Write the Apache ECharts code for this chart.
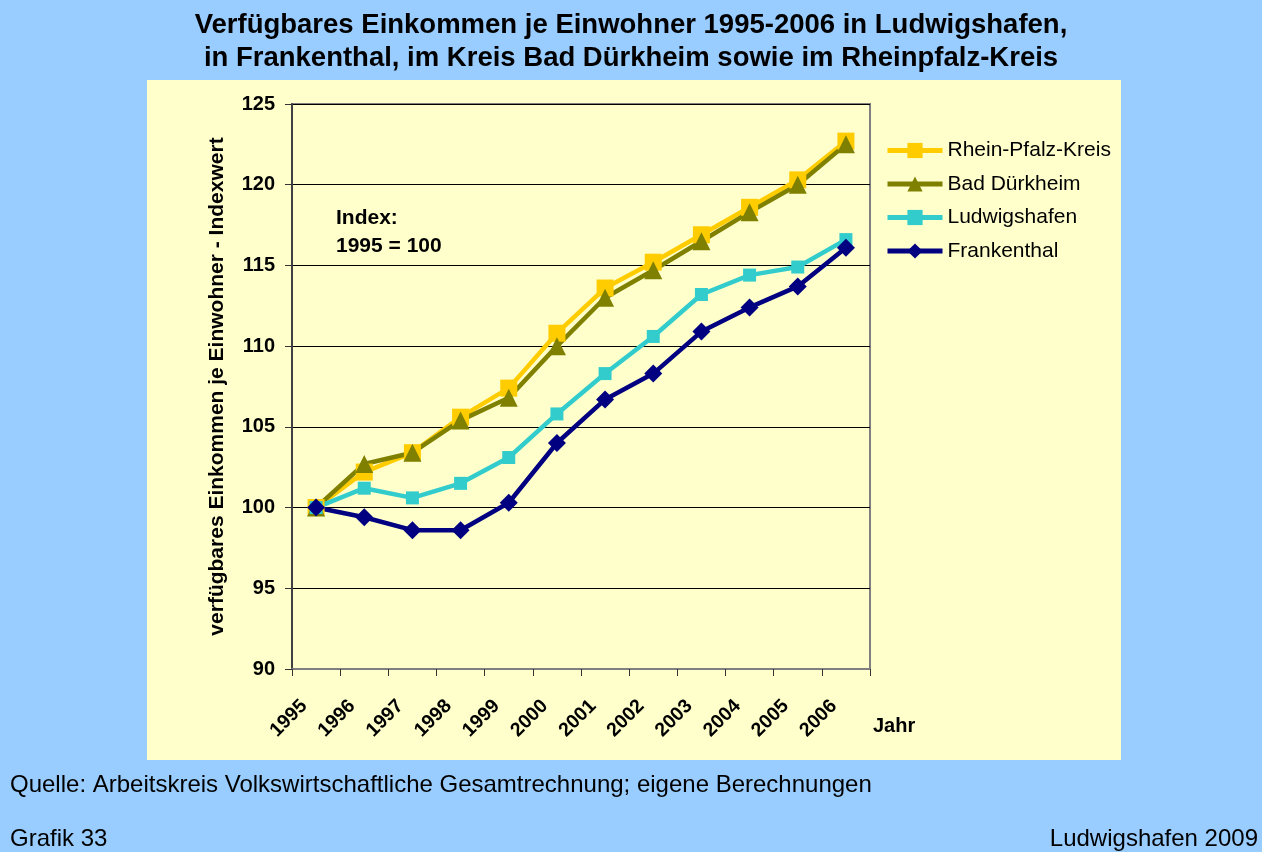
<!DOCTYPE html>
<html>
<head>
<meta charset="utf-8">
<script src="https://cdn.jsdelivr.net/npm/echarts@6/dist/echarts.min.js"></script>
<style>
  html, body { margin: 0; padding: 0; background: #99CCFF; }
  #chart { width: 1262px; height: 852px; }
</style>
</head>
<body>
<div id="chart"></div>
<script>
// Jahre (Kategorien der x-Achse)
const years = ['1995','1996','1997','1998','1999','2000','2001','2002','2003','2004','2005','2006'];

// Indexwerte (1995 = 100)
const rheinPfalzKreis = [100, 102.2, 103.4, 105.6, 107.4, 110.8, 113.6, 115.2, 116.9, 118.6, 120.3, 122.7];
const badDuerkheim    = [100, 102.7, 103.4, 105.4, 106.8, 110.0, 113.0, 114.7, 116.5, 118.3, 120.0, 122.5];
const ludwigshafen    = [100, 101.2, 100.6, 101.5, 103.1, 105.8, 108.3, 110.6, 113.2, 114.4, 114.9, 116.6];
const frankenthal     = [100, 99.4, 98.6, 98.6, 100.3, 104.0, 106.7, 108.3, 110.9, 112.4, 113.7, 116.1];

// Skalierung der y-Achse
const yMin = 90, yMax = 125, yStep = 5;

const FONT = '"Liberation Sans", Arial, sans-serif';

const chart = echarts.init(document.getElementById('chart'), null, { renderer: 'canvas' });

function lineSeries(name, data, color, symbol, size) {
  return {
    name: name,
    type: 'line',
    data: data,
    symbol: symbol,
    symbolSize: size,
    showAllSymbol: true,
    lineStyle: { color: color, width: 4.5 },
    itemStyle: { color: color },
    emphasis: { disabled: true },
    animation: false
  };
}

chart.setOption({
  backgroundColor: '#99CCFF',
  animation: false,
  textStyle: { fontFamily: FONT },
  title: {
    text: 'Verfügbares Einkommen je Einwohner 1995-2006 in Ludwigshafen,\nin Frankenthal, im Kreis Bad Dürkheim sowie im Rheinpfalz-Kreis',
    left: 'center',
    top: 4,
    textStyle: { fontFamily: FONT, fontSize: 27.5, fontWeight: 'bold', lineHeight: 33, color: '#000' }
  },
  graphic: [
    { type: 'rect', z: -10, shape: { x: 147, y: 80, width: 974, height: 680 }, style: { fill: '#FFFFCC' } },
    { type: 'text', left: 336, top: 208, style: { text: 'Index:', font: 'bold 21px ' + FONT, fill: '#000' } },
    { type: 'text', left: 336, top: 236, style: { text: '1995 = 100', font: 'bold 21px ' + FONT, fill: '#000' } },
    { type: 'text', left: 873, top: 716, style: { text: 'Jahr', font: 'bold 20px ' + FONT, fill: '#000' } },
    { type: 'text', left: 10, top: 773, style: { text: 'Quelle: Arbeitskreis Volkswirtschaftliche Gesamtrechnung; eigene Berechnungen', font: '24px ' + FONT, fill: '#000' } },
    { type: 'text', left: 10, top: 827, style: { text: 'Grafik 33', font: '24px ' + FONT, fill: '#000' } },
    { type: 'text', right: 4, top: 827, style: { text: 'Ludwigshafen 2009', font: '24px ' + FONT, fill: '#000' } }
  ],
  legend: {
    orient: 'vertical',
    left: 880,
    top: 135,
    itemWidth: 55,
    itemHeight: 19,
    itemGap: 12.5,
    lineStyle: { width: 5 },
    textStyle: { fontFamily: FONT, fontSize: 21, color: '#000' },
    data: ['Rhein-Pfalz-Kreis', 'Bad Dürkheim', 'Ludwigshafen', 'Frankenthal']
  },
  grid: {
    left: 292, right: 392, top: 104, bottom: 183,
    show: true,
    borderColor: '#808080',
    borderWidth: 2,
    backgroundColor: '#FFFFCC'
  },
  xAxis: {
    type: 'category',
    data: years,
    boundaryGap: true,
    axisLine: { lineStyle: { color: '#808080', width: 2 } },
    axisTick: { show: true, length: 7, lineStyle: { color: '#333', width: 1 } },
    axisLabel: {
      rotate: 45,
      margin: 22,
      fontFamily: FONT,
      fontSize: 19.5,
      fontWeight: 'bold',
      color: '#000',
      padding: [0, 17, 0, 0]
    },
    splitLine: { show: false }
  },
  yAxis: {
    type: 'value',
    min: yMin,
    max: yMax,
    interval: yStep,
    name: 'verfügbares Einkommen je Einwohner - Indexwert',
    nameLocation: 'middle',
    nameRotate: 90,
    nameGap: 64,
    nameTextStyle: { fontFamily: FONT, fontSize: 21, fontWeight: 'bold', color: '#000' },
    axisLine: { show: true, lineStyle: { color: '#404040', width: 2 } },
    axisTick: { show: true, length: 7, inside: false, lineStyle: { color: '#333', width: 1 } },
    axisLabel: { margin: 17, fontFamily: FONT, fontSize: 20, fontWeight: 'bold', color: '#000' },
    splitLine: { show: true, lineStyle: { color: '#000', width: 1 } }
  },
  series: [
    lineSeries('Rhein-Pfalz-Kreis', rheinPfalzKreis, '#FFCC00', 'rect', 17),
    lineSeries('Bad Dürkheim', badDuerkheim, '#808000', 'triangle', 18),
    lineSeries('Ludwigshafen', ludwigshafen, '#33CCCC', 'rect', 13),
    lineSeries('Frankenthal', frankenthal, '#000080', 'diamond', 18)
  ]
});
</script>
</body>
</html>
